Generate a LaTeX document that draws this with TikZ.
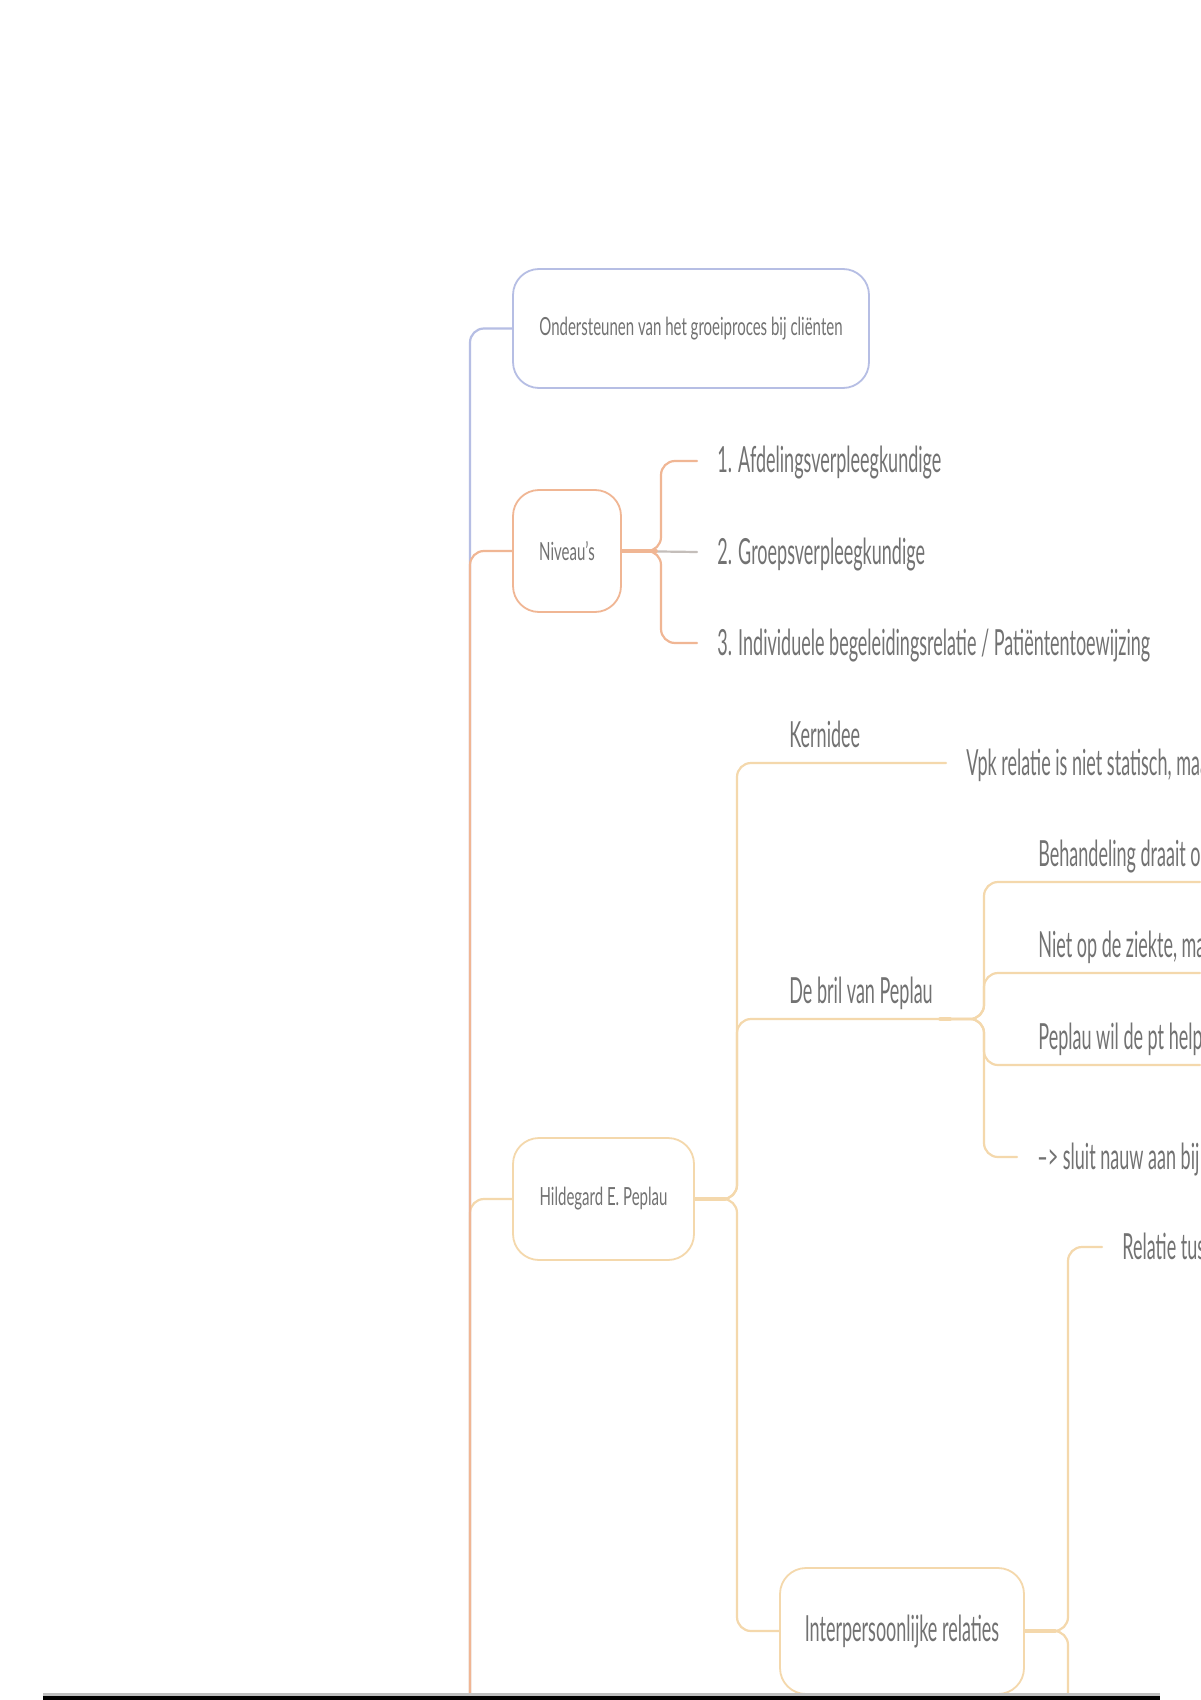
\documentclass[tikz,border=0pt]{standalone}
\usepackage{fontspec}
\setmainfont{Lato}[FakeStretch=0.5]
\newfontfamily\smallf{Lato}[FakeStretch=0.6]
\newfontfamily\bigf{Lato}[FakeStretch=0.5]
\definecolor{txt}{HTML}{727272}
\definecolor{bluec}{HTML}{B6BEE4}
\definecolor{orangec}{HTML}{F0B694}
\definecolor{beigec}{HTML}{F4D8AC}
\definecolor{greyc}{HTML}{C4BEBA}
\begin{document}
\begin{tikzpicture}[x=0.5pt,y=-0.5pt,
  con/.style={line width=1.1pt, rounded corners=7pt, line cap=round},
  bluecon/.style={con, draw=bluec},
  orcon/.style={con, draw=orangec},
  becon/.style={con, draw=beigec},
  grcon/.style={con, draw=greyc},
  tbox/.style={draw, fill=white, rounded corners=13pt, line width=0.9pt, text=txt,
    inner sep=0pt, font=\smallf\fontsize{12.5}{14}\selectfont},
  biglbl/.style={anchor=west, text=txt, inner xsep=10pt, inner ysep=0pt,
    text height=15.5pt, text depth=3.5pt, font=\bigf\fontsize{18}{21}\selectfont},
  uline/.style={anchor=base west, text=txt, inner sep=0pt, font=\bigf\fontsize{18}{21}\selectfont}
]
\useasboundingbox (0,0) rectangle (1200,1700);
\fill[white] (0,0) rectangle (1200,1700);

\coordinate (pbot) at (470,1700);

% root
\node[tbox, draw=bluec, minimum width=178pt, minimum height=59.5pt] (root) at (691,328.5)
  {Ondersteunen van het groeiproces bij cliënten};
\draw[bluecon] (root.west) -- (470,328.5) -- (pbot);

% Hildegard branch
\node[tbox, draw=beigec, minimum width=90.5pt, minimum height=61pt] (hild) at (603.5,1199)
  {Hildegard E. Peplau};
\draw[becon] (hild.west) -- (470,1199) -- (pbot);

% Niveau's branch
\node[tbox, draw=orangec, minimum width=54pt, minimum height=61pt] (niv) at (567,551)
  {Niveau’s};
\draw[orcon] (niv.west) -- (470,551) -- (pbot);

\node[biglbl] (n1) at (697,461) {1. Afdelingsverpleegkundige};
\node[biglbl] (n2) at (697,552) {2. Groepsverpleegkundige};
\node[biglbl] (n3) at (697,643) {3. Individuele begeleidingsrelatie / Patiëntentoewijzing};
\draw[grcon] (niv.east) -- (n2.west);
\draw[orcon] (niv.east) -- (661,551) -- (661,461) -- (n1.west);
\draw[orcon] (niv.east) -- (661,551) -- (661,643) -- (n3.west);
\draw[orcon, line width=1.8pt] (niv.east) -- (656,551);

% Kernidee
\node[biglbl] (vpk) at (946,763) {Vpk relatie is niet statisch, maa};
\node[uline] (kern) at (789,747) {Kernidee};
\draw[becon] (hild.east) -- (737,1199) -- (737,763) -- (vpk.west);

% De bril van Peplau
\coordinate (bj) at (950,1019);
\node[uline] (bril) at (789,1003) {De bril van Peplau};
\draw[becon] (hild.east) -- (737,1199) -- (737,1019) -- (bj);

\coordinate (e1) at (1200,882);
\coordinate (e2) at (1200,973);
\coordinate (e3) at (1200,1065);
\node[uline] (b1) at (1038,866) {Behandeling draait o};
\node[uline] (b2) at (1038,957) {Niet op de ziekte, ma};
\node[uline] (b3) at (1038,1049) {Peplau wil de pt help};
\node[biglbl] (b4) at (1017,1157) {–> sluit nauw aan bij};
\draw[becon] (bj) -- (984,1019) -- (984,882) -- (e1);
\draw[becon] (bj) -- (984,1019) -- (984,973) -- (e2);
\draw[becon] (bj) -- (984,1019) -- (984,1065) -- (e3);
\draw[becon] (bj) -- (984,1019) -- (984,1157) -- (b4.west);
\draw[becon, line width=1.8pt] (940,1019) -- (bj);

% Interpersoonlijke relaties
\node[tbox, draw=beigec, minimum width=122pt, minimum height=63pt,
  font=\bigf\fontsize{18}{21}\selectfont] (int) at (902,1631) {Interpersoonlijke relaties};
\draw[becon] (hild.east) -- (737,1199) -- (737,1631) -- (int.west);
\draw[becon, line width=1.8pt] (hild.east) -- (725,1199);

\node[biglbl] (rel) at (1102,1247) {Relatie tus};
\coordinate (ibot) at (1068,1700);
\draw[becon] (int.east) -- (1068,1631) -- (1068,1247) -- (rel.west);
\draw[becon] (int.east) -- (1068,1631) -- (ibot);
\draw[becon, line width=1.8pt] (int.east) -- (1055,1631);

% bottom bar
\fill[black!25] (43,1693) rectangle (1160,1696);
\fill[black] (43,1696) rectangle (1160,1700);
\end{tikzpicture}
\end{document}
